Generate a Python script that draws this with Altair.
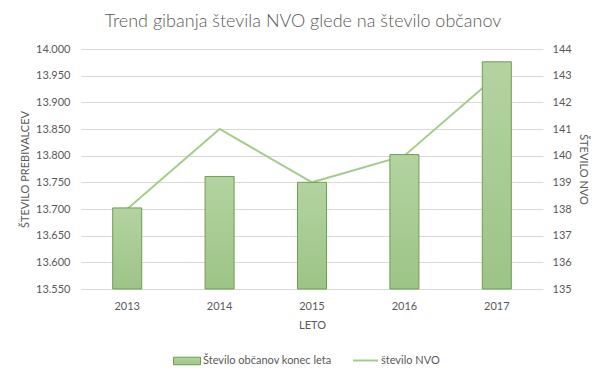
import altair as alt
import pandas as pd

years = ["2013", "2014", "2015", "2016", "2017"]
citizens = [13702, 13761, 13750, 13802, 13976]
nvo = [138, 141, 139, 140, 143]
bar_name = "Število občanov konec leta"
line_name = "število NVO"
left_ticks = [13550, 13600, 13650, 13700, 13750, 13800, 13850, 13900, 13950, 14000]
right_ticks = [135, 136, 137, 138, 139, 140, 141, 142, 143, 144]

df = pd.DataFrame({"leto": years, "obcani": citizens, "nvo": nvo})

FONT = "Lato"
TXT = "#595959"

x = alt.X("leto:N", title="LETO", sort=years,
          scale=alt.Scale(paddingInner=0.686, paddingOuter=0.343),
          axis=alt.Axis(labelAngle=0, ticks=False, domain=False, labelPadding=11,
                        titlePadding=8, labelFontSize=11, titleFontSize=11,
                        titleFontWeight="normal", labelColor=TXT, titleColor=TXT,
                        labelFont=FONT, titleFont=FONT))

line = alt.Chart(df).transform_calculate(s=f"'{line_name}'").mark_line(
    strokeWidth=2
).encode(
    x=x,
    y=alt.Y("nvo:Q", title="ŠTEVILO NVO",
            scale=alt.Scale(domain=[135, 144], zero=False, nice=False),
            axis=alt.Axis(orient="right", values=right_ticks, grid=False, ticks=False,
                          domain=False, labelPadding=9, titlePadding=6,
                          labelFontSize=11, titleFontSize=11, titleFontWeight="normal",
                          labelColor=TXT, titleColor=TXT, labelFont=FONT, titleFont=FONT)),
    stroke=alt.Stroke("s:N", scale=alt.Scale(domain=[line_name], range=["#a6cc8c"]),
                      legend=alt.Legend(title=None, orient="none", legendX=271, legendY=298,
                                        symbolType="stroke", symbolSize=625,
                                        symbolStrokeWidth=2, labelOffset=2,
                                        labelFont=FONT, labelFontSize=11, labelColor=TXT,
                                        padding=0)),
)

grad = alt.Gradient(gradient="linear",
                    stops=[alt.GradientStop(offset=0, color="#b3d3a0"),
                           alt.GradientStop(offset=1, color="#9dc487")],
                    x1=0, x2=0, y1=0, y2=1)

bars = alt.Chart(df).transform_calculate(s=f"'{bar_name}'").mark_bar(
    fill=grad, strokeWidth=1
).encode(
    x=x,
    y=alt.Y("obcani:Q", title="ŠTEVILO PREBIVALCEV",
            scale=alt.Scale(domain=[13550, 14000], zero=False, nice=False),
            axis=alt.Axis(orient="left", values=left_ticks, grid=True, gridColor="#d9d9d9",
                          ticks=False, domain=False, labelPadding=11, titlePadding=5,
                          labelExpr="replace(format(datum.value, ','), ',', '.')",
                          labelFontSize=11, titleFontSize=11, titleFontWeight="normal",
                          labelColor=TXT, titleColor=TXT, labelFont=FONT, titleFont=FONT)),
    y2=alt.datum(13550),
    stroke=alt.Stroke("s:N", scale=alt.Scale(domain=[bar_name], range=["#6e9e50"]),
                      legend=alt.Legend(title=None, orient="none", legendX=92, legendY=298,
                                        symbolType="M-1,-0.28H1V0.28H-1Z", symbolSize=729,
                                        symbolFillColor="#a9cf92", symbolStrokeWidth=1,
                                        labelOffset=2, labelFont=FONT, labelFontSize=11,
                                        labelColor=TXT, padding=0)),
)

chart = alt.layer(line, bars).resolve_scale(
    y="independent", stroke="independent"
).properties(
    width=462, height=240,
    autosize=alt.AutoSizeParams(type="none"),
    padding={"left": 73, "top": 41, "right": 55, "bottom": 82},
    title=alt.TitleParams("Trend gibanja števila NVO glede na število občanov",
                          font=FONT, fontSize=18, fontWeight=300, color=TXT,
                          anchor="middle", dx=-9, offset=12),
    background="white",
).configure_view(stroke=None)

chart.save("out.html", embed_options={"renderer": "svg", "actions": False})
